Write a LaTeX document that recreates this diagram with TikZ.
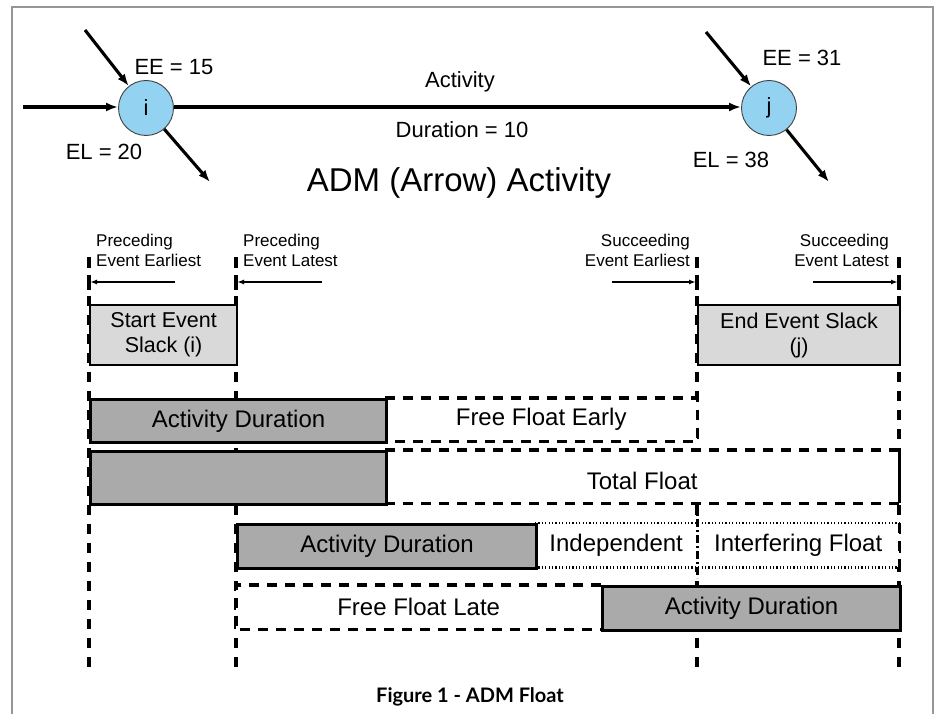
\documentclass[tikz,border=0pt]{standalone}
\usepackage{fontspec}
\setmainfont{Liberation Sans}
\newfontfamily\capfont{Lato}
\usetikzlibrary{arrows.meta}
\definecolor{evblue}{RGB}{148,210,242}
\definecolor{slackgray}{RGB}{217,217,217}
\definecolor{durgray}{RGB}{170,170,170}
\definecolor{framegray}{RGB}{150,150,150}
\begin{document}
\begin{tikzpicture}[x=1pt,y=-1pt,
  thickarr/.style={line width=3.1pt,-{Latex[length=12pt,width=9pt]}},
  event/.style={circle,draw=black!75,line width=0.9pt,fill=evblue,minimum size=55pt,inner sep=0pt,font=\fontsize{22}{26}\selectfont},
  lbl/.style={font=\fontsize{22}{26}\selectfont,inner sep=0pt},
  hdr/.style={font=\fontsize{17}{20}\selectfont,inner sep=0pt},
  hdrarr/.style={line width=1.4pt,-{Latex[length=7pt,width=5pt]}},
  tick/.style={line width=3.2pt},
  guide/.style={line width=3.2pt,dash pattern=on 10pt off 9pt},
  slackbox/.style={draw,line width=2.2pt,fill=slackgray,anchor=north west,inner sep=0pt,align=center,font=\fontsize{21.5}{25}\selectfont},
  durbox/.style={draw,line width=3.2pt,fill=durgray,anchor=north west,inner sep=0pt,font=\fontsize{24}{28}\selectfont},
  floatbox/.style={fill=white,anchor=north west,inner sep=0pt,font=\fontsize{24}{28}\selectfont},
  dashedge/.style={line width=3.2pt,dash pattern=on 10pt off 8pt},
  dotedge/.style={line width=2.6pt,dash pattern=on 1.2pt off 2.2pt},
]
\useasboundingbox (0,0) rectangle (938,714);
% frame
\draw[framegray,line width=2pt] (12,714) -- (12,7) -- (933,7) -- (933,714);

% ---- top: ADM activity ----
\node[event] (i) at (146,108) {i};
\node[event] (j) at (769,108) {j};
\coordinate (iin1) at (23,107);
\coordinate (iin2) at (85,30);
\coordinate (iout) at (210,182);
\coordinate (jin) at (706,32);
\coordinate (jout) at (829,182);
\draw[thickarr] (iin1) -- (i.west |- iin1);
\draw[thickarr] (iin2) -- (i);
\draw[thickarr] (i) -- (iout);
\draw[thickarr] (i.east |- iin1) -- (j.west |- iin1);
\draw[thickarr] (jin) -- (j);
\draw[thickarr] (j) -- (jout);
\node[lbl] (ee1) at (174,67) {EE = 15};
\node[lbl] (el1) at (104,152) {EL = 20};
\node[lbl] (act) at (460,82) {Activity};
\node[lbl] (dur) at (462,130) {Duration = 10};
\node[font=\fontsize{33}{38}\selectfont,inner sep=0pt] (title) at (459,183) {ADM (Arrow) Activity};
\node[lbl] (ee2) at (802,58) {EE = 31};
\node[lbl] (el2) at (731,160) {EL = 38};

% ---- guides ----
\foreach \gx/\gn in {89/ga,236/gb,697/gc,899/gd}{
  \coordinate (\gn top) at (\gx,296);
  \coordinate (\gn bot) at (\gx,676);
  \draw[guide] (\gn top) -- (\gn bot);
  \draw[tick] (\gx,257) -- (\gx,268);
  \draw[tick] (\gx,275) -- (\gx,290);
}

% header labels
\node[hdr,anchor=north west,align=left] (pee) at (96,234) {Preceding\\Event Earliest};
\node[hdr,anchor=north west,align=left] (pel) at (243,234) {Preceding\\Event Latest};
\node[hdr,anchor=north east,align=right] (see) at (690,234) {Succeeding\\Event Earliest};
\node[hdr,anchor=north east,align=right] (sel) at (889,234) {Succeeding\\Event Latest};
\coordinate (a1s) at (175,282); \coordinate (a1e) at (90,282);
\coordinate (a2s) at (322,282); \coordinate (a2e) at (237,282);
\coordinate (a3s) at (612,282); \coordinate (a3e) at (696,282);
\coordinate (a4s) at (813,282); \coordinate (a4e) at (898,282);
\draw[hdrarr] (a1s) -- (a1e);
\draw[hdrarr] (a2s) -- (a2e);
\draw[hdrarr] (a3s) -- (a3e);
\draw[hdrarr] (a4s) -- (a4e);

% slack boxes
\node[slackbox,minimum width=147pt,minimum height=60pt] (ses) at (89,304) {Start Event\\Slack (i)};
\node[slackbox,minimum width=202pt,minimum height=60pt] (ees) at (697,304) {End Event Slack\\(j)};

% row 1
\node[floatbox,minimum width=312pt,minimum height=43pt] (ffe) at (385,398) {Free Float Early};
\draw[dashedge] (ffe.north west) -- (ffe.north east) -- (ffe.south east) -- (ffe.south west);
\node[durbox,minimum width=296pt,minimum height=43pt] (ad1) at (89,398) {Activity Duration};

% row 2
\node[floatbox,minimum width=514pt,minimum height=53pt,text depth=0pt] (tf) at (385,450) {\raisebox{-9pt}{Total Float}};
\draw[dashedge] (tf.north west) -- (tf.north east);
\draw[dashedge] (tf.south west) -- (tf.south east);
\draw[line width=3.2pt] (tf.north east) -- (tf.south east);
\node[durbox,minimum width=296pt,minimum height=53pt] (ad2) at (89,450) {};

% row 3
\node[floatbox,minimum width=162pt,minimum height=44pt] (ind) at (535,523) {Independent};
\node[floatbox,minimum width=202pt,minimum height=44pt] (intf) at (697,523) {Interfering Float};
\draw[dotedge] (ind.north west) -- (intf.north east);
\draw[dotedge] (ind.south west) -- (intf.south east);
\draw[line width=3pt,dash pattern=on 8pt off 3pt on 2pt off 3pt] (697,503) -- (697,578);
\draw[dashedge] (intf.north east) -- (intf.south east);
\node[durbox,minimum width=299pt,minimum height=44pt] (ad3) at (236,523) {Activity Duration};

% row 4
\node[floatbox,minimum width=365pt,minimum height=44pt] (ffl) at (236,585) {Free Float Late};
\draw[dashedge] (ffl.north east) -- (ffl.north west) -- (ffl.south west) -- (ffl.south east);
\node[durbox,minimum width=298pt,minimum height=44pt] (ad4) at (601,585) {Activity Duration};

% caption
\node[font=\capfont\bfseries\fontsize{20}{24}\selectfont,inner sep=0pt] (cap) at (470,697) {Figure 1 - ADM Float};
\end{tikzpicture}
\end{document}
